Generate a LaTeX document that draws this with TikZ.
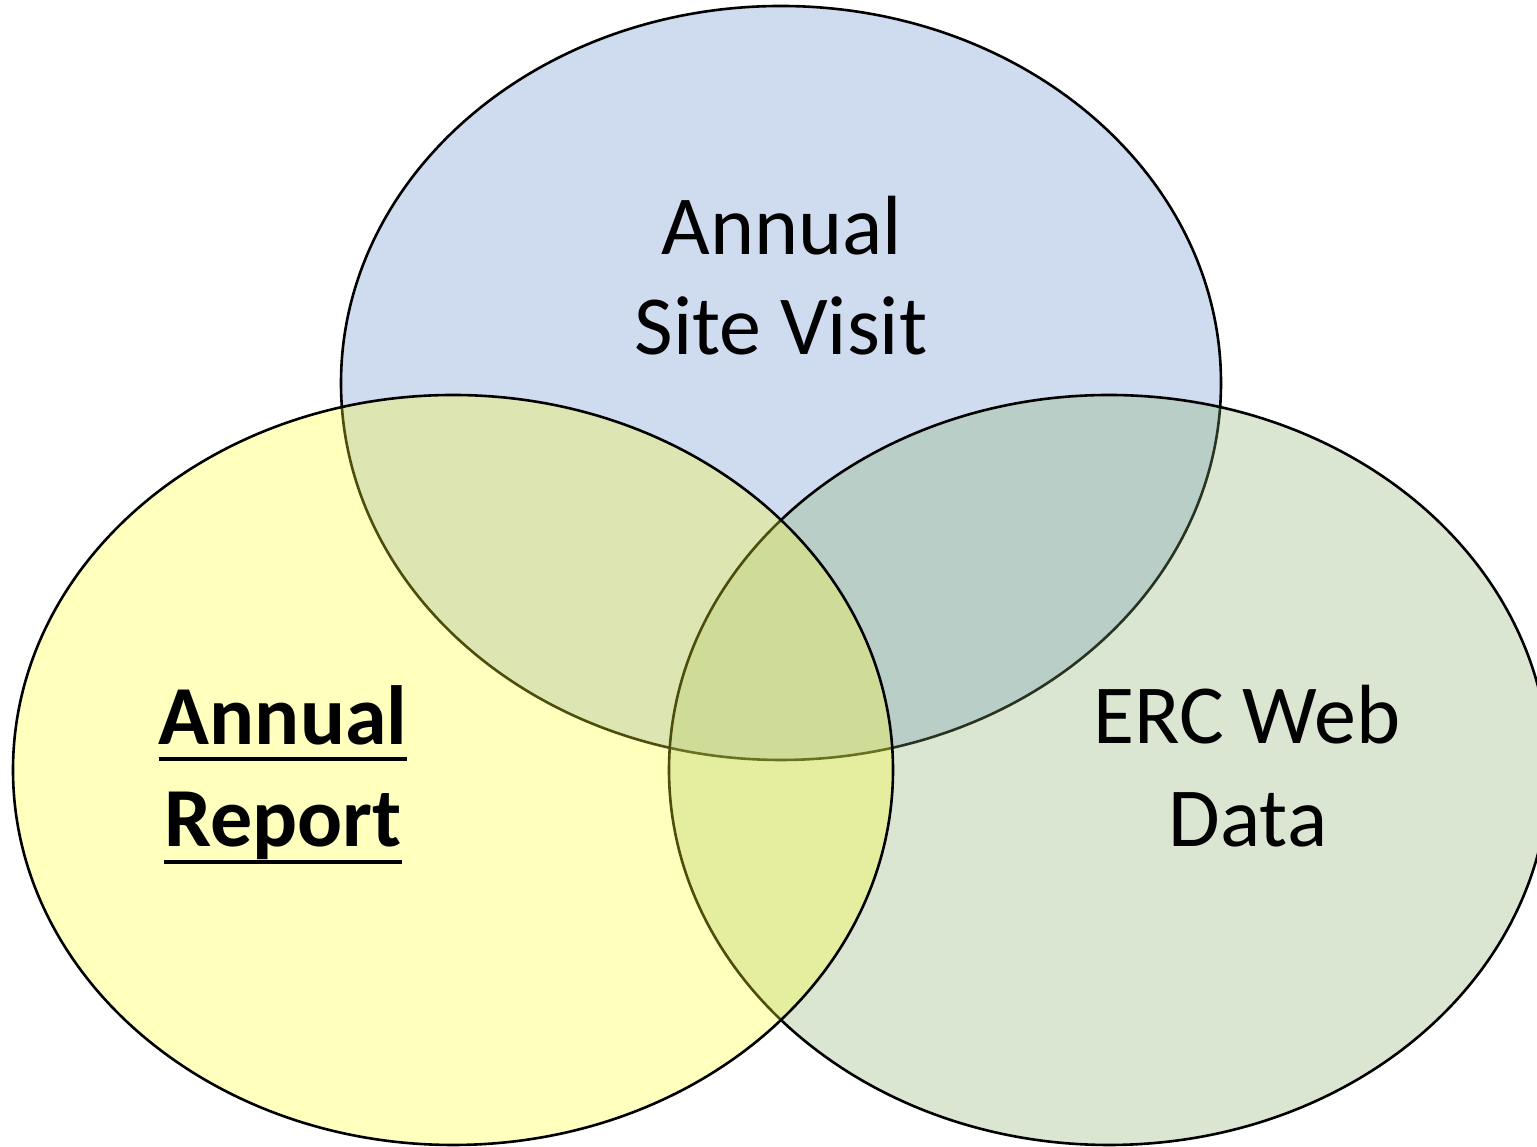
\documentclass[tikz,border=0pt]{standalone}
\usepackage{fontspec}
\setmainfont{Carlito}
\definecolor{topblue}{RGB}{207,220,240}
\definecolor{rgreen}{RGB}{138,175,108}
\definecolor{lyellow}{RGB}{255,255,40}
\begin{document}
\begin{tikzpicture}[x=1pt,y=1pt,
  ring/.style={draw=black,line width=2.6pt},
  lbl/.style={anchor=base,inner sep=0pt,font=\fontsize{84}{100}\selectfont},
  blbl/.style={lbl,font=\fontsize{84}{100}\selectfont\bfseries}]
\useasboundingbox (0,0) rectangle (1537,1147);
\fill[white] (0,0) rectangle (1537,1147);
% top ellipse (blue)
\path[ring,fill=topblue] (781,764) ellipse [x radius=440,y radius=377];
% right ellipse (green)
\path[ring,fill=rgreen,fill opacity=0.3] (1109,377) ellipse [x radius=440,y radius=375];
% left ellipse (yellow)
\path[ring,fill=lyellow,fill opacity=0.3] (453,377) ellipse [x radius=440,y radius=375];
% labels
\node[lbl] (sv1) at (782,892) {Annual};
\node[lbl] (sv2) at (781,792) {Site Visit};
\node[lbl] (erc1) at (1247,403) {ERC Web};
\node[lbl] (erc2) at (1248,300) {Data};
\node[blbl] (ar1) at (283,402) {Annual};
\node[blbl] (ar2) at (283,300) {Report};
\draw[line width=4pt] ([yshift=-14pt]ar1.base west) -- ([yshift=-14pt]ar1.base east);
\draw[line width=4pt] ([yshift=-15pt]ar2.base west) -- ([yshift=-15pt]ar2.base east);
\end{tikzpicture}
\end{document}
